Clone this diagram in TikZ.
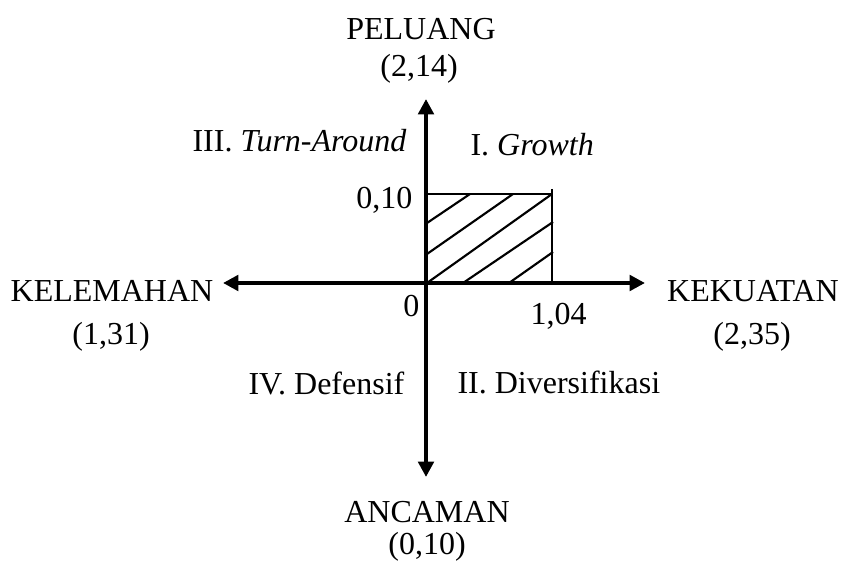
\documentclass[tikz,border=0pt]{standalone}
\usepackage{fontspec}
\setmainfont{Liberation Serif}
\usetikzlibrary{arrows.meta}
\begin{document}
\begin{tikzpicture}[x=0.375pt,y=-0.375pt,
  font=\fontsize{12}{14}\selectfont,
  axisline/.style={line width=1.5pt,
    {Triangle[length=5.8pt,width=5.8pt]}-{Triangle[length=5.8pt,width=5.8pt]}},
  boxline/.style={line width=0.8pt},
  hatchline/.style={line width=0.8pt},
  lab/.style={anchor=base, inner sep=0pt},
  labw/.style={anchor=base west, inner sep=0pt},
  labe/.style={anchor=base east, inner sep=0pt}]
\useasboundingbox (0,0) rectangle (845,565);

% axis end points
\coordinate (O) at (426,283);
\coordinate (N) at (426,99);
\coordinate (S) at (426,477);
\coordinate (W) at (223,283);
\coordinate (E) at (645,283);

% rectangle corners
\coordinate (TL) at (426,194);
\coordinate (TR) at (552,194);
\coordinate (TRx) at (552,189);
\coordinate (BR) at (552,283);

% hatch
\draw[hatchline] (427,223) -- (470,194);
\draw[hatchline] (427,254) -- (513,194);
\draw[hatchline] (427,283) -- (TR);
\draw[hatchline] (463,283) -- (553,222);
\draw[hatchline] (509,283) -- (553,252);

\draw[boxline] (TL) -- (TR);
\draw[boxline] (TRx) -- (BR);

\draw[axisline] (S) -- (N);
\draw[axisline] (W) -- (E);

% labels
\node[lab] (peluang) at (421,40) {PELUANG};
\node[lab] (peluangv) at (419,77) {(2,14)};
\node[lab] (kelemahan) at (112,302) {KELEMAHAN};
\node[lab] (kelemahanv) at (111,345) {(1,31)};
\node[lab] (kekuatan) at (753,302) {KEKUATAN};
\node[lab] (kekuatanv) at (752,345) {(2,35)};
\node[lab] (ancaman) at (427,522) {ANCAMAN};
\node[lab] (ancamanv) at (427,554) {(0,10)};

\node[labw] (q3) at (192,152) {III. \textit{Turn-Around}};
\node[labw] (q1) at (470,156) {I. \textit{Growth}};
\node[labw] (q4) at (248,395) {IV. Defensif};
\node[labw] (q2) at (457,394) {II. Diversifikasi};

\node[labe] (y10) at (413,209) {0,10};
\node[labe] (zero) at (420,317) {0};
\node[labw] (x104) at (530,325) {1,04};
\end{tikzpicture}
\end{document}
